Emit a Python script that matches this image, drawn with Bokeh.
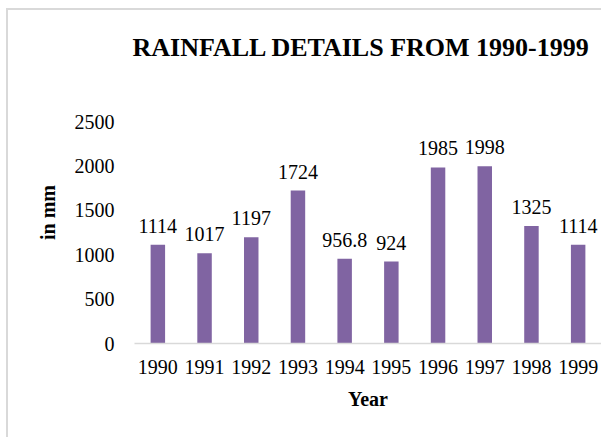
from bokeh.plotting import figure
from bokeh.models import Range1d, FixedTicker, ColumnDataSource
from bokeh.core.properties import value
from bokeh.embed import file_html
from bokeh.resources import INLINE

# Annual rainfall (mm), 1990-1999
years = ["1990", "1991", "1992", "1993", "1994", "1995", "1996", "1997", "1998", "1999"]
rainfall = [1114, 1017, 1197, 1724, 956.8, 924, 1985, 1998, 1325, 1114]
y_ticks = [0, 500, 1000, 1500, 2000, 2500]

FONT = "Liberation Serif"
BAR = "#8064A2"
GRID_GREY = "#d9d9d9"

idx = list(range(len(years)))
src = ColumnDataSource(dict(
    x=idx,
    y=rainfall,
    label=[f"{v:g}" for v in rainfall],
))

# the plot frame reaches up under the title; ticks stop at 2500
p = figure(
    width=595, height=429,
    output_backend="svg", toolbar_location=None,
    x_range=Range1d(-0.5, len(years) - 0.5),
    y_range=Range1d(0, 2954),
    min_border_left=126, min_border_right=2,
    min_border_top=0, min_border_bottom=96,
    title="RAINFALL DETAILS FROM 1990-1999",
)
# light grey chart-area border along the top and left edges
p.margin = (8, 0, 0, 6)
p.styles = {"border-left": f"2px solid {GRID_GREY}", "border-top": f"2px solid {GRID_GREY}"}

p.title.align = "left"
p.title.offset = -2
p.title.standoff = 40
p.title.text_font = FONT
p.title.text_font_size = "26px"
p.title.text_font_style = "bold"
p.title.text_color = "black"

p.vbar(x="x", top="y", width=0.31, source=src, color=BAR, line_color=None)

# value labels above each bar
p.text(x="x", y="y", text="label", source=src,
       text_font=value(FONT), text_font_size="20px", text_color="black",
       text_align="center", text_baseline="alphabetic", y_offset=-19)

p.xgrid.visible = False
p.ygrid.visible = False
p.outline_line_color = None

xa = p.xaxis[0]
xa.ticker = FixedTicker(ticks=idx)
xa.major_label_overrides = {i: y for i, y in enumerate(years)}
xa.axis_line_color = GRID_GREY
xa.axis_line_width = 1.5
xa.major_tick_line_color = None
xa.minor_tick_line_color = None
xa.major_label_text_font = FONT
xa.major_label_text_font_size = "20px"
xa.major_label_text_color = "black"
xa.major_label_standoff = 10
xa.axis_label = "Year"
xa.axis_label_text_font = FONT
xa.axis_label_text_font_size = "20px"
xa.axis_label_text_font_style = "bold"
xa.axis_label_text_color = "black"
xa.axis_label_standoff = 11

ya = p.yaxis[0]
ya.ticker = FixedTicker(ticks=y_ticks)
ya.axis_line_color = None
ya.major_tick_line_color = None
ya.minor_tick_line_color = None
ya.major_label_text_font = FONT
ya.major_label_text_font_size = "20px"
ya.major_label_text_color = "black"
ya.major_label_standoff = 14
ya.axis_label = "in mm"
ya.axis_label_text_font = FONT
ya.axis_label_text_font_size = "20px"
ya.axis_label_text_font_style = "bold"
ya.axis_label_text_color = "black"
ya.axis_label_standoff = 13

open("out.html", "w").write(file_html(p, INLINE))
